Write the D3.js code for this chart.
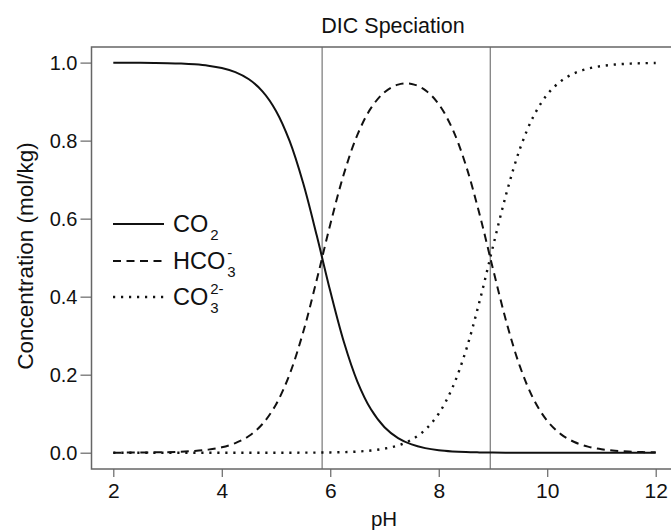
<!DOCTYPE html>
<html><head><meta charset="utf-8">
<script src="https://cdn.jsdelivr.net/npm/d3@7"></script>
<style>body{margin:0;background:#fff}svg{display:block}text{font-family:"Liberation Sans",Arial,sans-serif;fill:#111}</style>
</head><body><svg id="c" width="671" height="531"></svg>
<script>
const pH = [2,2.25,2.5,2.75,3,3.25,3.5,3.75,4,4.25,4.5,4.75,5,5.25,5.5,5.75,6,6.25,6.5,6.75,7,7.25,7.5,7.75,8,8.25,8.5,8.75,9,9.25,9.5,9.75,10,10.25,10.5,10.75,11,11.25,11.5,11.75,12];
const co2 = [0.9999,0.9998,0.9996,0.9992,0.9986,0.9975,0.9955,0.9921,0.9861,0.9755,0.9572,0.9264,0.8762,0.7992,0.6912,0.5572,0.4142,0.2843,0.1824,0.1112,0.0654,0.0376,0.0212,0.0117,0.0063,0.0033,0.0016,0.0008,0.0003,0.0001,0.0001,0,0,0,0,0,0,0,0,0,0];
const hco3 = [0.0001,0.0002,0.0004,0.0008,0.0014,0.0025,0.0045,0.0079,0.0139,0.0245,0.0428,0.0736,0.1238,0.2008,0.3087,0.4426,0.5851,0.7142,0.8147,0.8832,0.9242,0.9436,0.9453,0.9296,0.8934,0.8309,0.7369,0.6127,0.4711,0.3338,0.2199,0.1368,0.0818,0.0477,0.0274,0.0156,0.0088,0.0050,0.0028,0.0016,0.0009];
const co3 = [0,0,0,0,0,0,0,0,0,0,0,0,0.00001,0.00004,0.0001,0.0003,0.0007,0.0014,0.0029,0.0056,0.0104,0.0188,0.0335,0.0587,0.1003,0.1658,0.2615,0.3866,0.5286,0.6660,0.7801,0.8632,0.9182,0.9523,0.9726,0.9844,0.9912,0.9950,0.9972,0.9984,0.9991];
const pKs = [5.85, 8.95];
const xTicks = [2,4,6,8,10,12];
const yTicks = [0,0.2,0.4,0.6,0.8,1.0];
const seriesNames = ["CO2","HCO3-","CO3 2-"];

const svg = d3.select("#c");
const x = d3.scaleLinear().domain([2,12]).range([113.3,655.7]);
const y = d3.scaleLinear().domain([0,1]).range([452.7,62.6]);
const box = {l:91.5, t:47, r:690, b:469};

svg.append("text").attr("x",393).attr("y",32.7).attr("text-anchor","middle").style("font-size","21.5px").text("DIC Speciation");

// vertical reference lines
svg.selectAll(".vl").data(pKs).enter().append("line")
  .attr("x1",d=>x(d)).attr("x2",d=>x(d)).attr("y1",box.t).attr("y2",box.b)
  .attr("stroke","#777").attr("stroke-width",1.2);

// box
svg.append("rect").attr("x",box.l).attr("y",box.t).attr("width",box.r-box.l).attr("height",box.b-box.t)
  .attr("fill","none").attr("stroke","#666").attr("stroke-width",1.5);

// y axis
const ya = svg.append("g").attr("transform",`translate(${box.l},0)`)
  .call(d3.axisLeft(y).tickValues(yTicks).tickFormat(d3.format(".1f")).tickSize(11).tickPadding(3));
ya.select(".domain").remove();
ya.selectAll("line").attr("stroke","#666").attr("stroke-width",1.2);
ya.selectAll("text").style("font-size","20px").attr("fill","#111").attr("font-family",null);

// x axis
const xa = svg.append("g").attr("transform",`translate(0,${box.b})`)
  .call(d3.axisBottom(x).tickValues(xTicks).tickFormat(d3.format("d")).tickSize(8).tickPadding(6));
xa.select(".domain").remove();
xa.selectAll("line").attr("stroke","#666").attr("stroke-width",1.2);
xa.selectAll("text").style("font-size","21px").attr("fill","#111").attr("font-family",null);

svg.append("text").attr("x",384).attr("y",526).attr("text-anchor","middle").style("font-size","20.5px").text("pH");
svg.append("text").attr("transform","translate(33,256) rotate(-90)").attr("text-anchor","middle").style("font-size","22.5px").text("Concentration (mol/kg)");

const styles = [
  {data:co2, dash:null, w:2},
  {data:hco3, dash:"8,5.5", w:2},
  {data:co3, dash:"2.2,5.8", w:2.4}
];
const line = d3.line().x((d,i)=>x(pH[i])).y(d=>y(d)).curve(d3.curveCatmullRom.alpha(0.5));
styles.forEach(s=>{
  svg.append("path").datum(s.data).attr("d",line).attr("fill","none")
    .attr("stroke","#111").attr("stroke-width",s.w).attr("stroke-dasharray",s.dash);
});

// legend
const ly = [224, 261, 297];
styles.forEach((s,i)=>{
  svg.append("line").attr("x1",113).attr("x2",164).attr("y1",ly[i]).attr("y2",ly[i])
    .attr("stroke","#111").attr("stroke-width",s.w).attr("stroke-dasharray",s.dash);
});
function leg(i, main, sub, sup){
  const g = svg.append("g").attr("transform",`translate(173,${ly[i]+8})`);
  const t = g.append("text").style("font-size","23.5px").text(main);
  const w = t.node().getComputedTextLength();
  if (sub) g.append("text").attr("x",w+2).attr("y",8).style("font-size","15px").text(sub);
  if (sup) g.append("text").attr("x",w+2).attr("y",-11).style("font-size","15px").text(sup);
}
leg(0,"CO","2",null);
leg(1,"HCO","3","-");
leg(2,"CO","3","2-");
</script></body></html>
